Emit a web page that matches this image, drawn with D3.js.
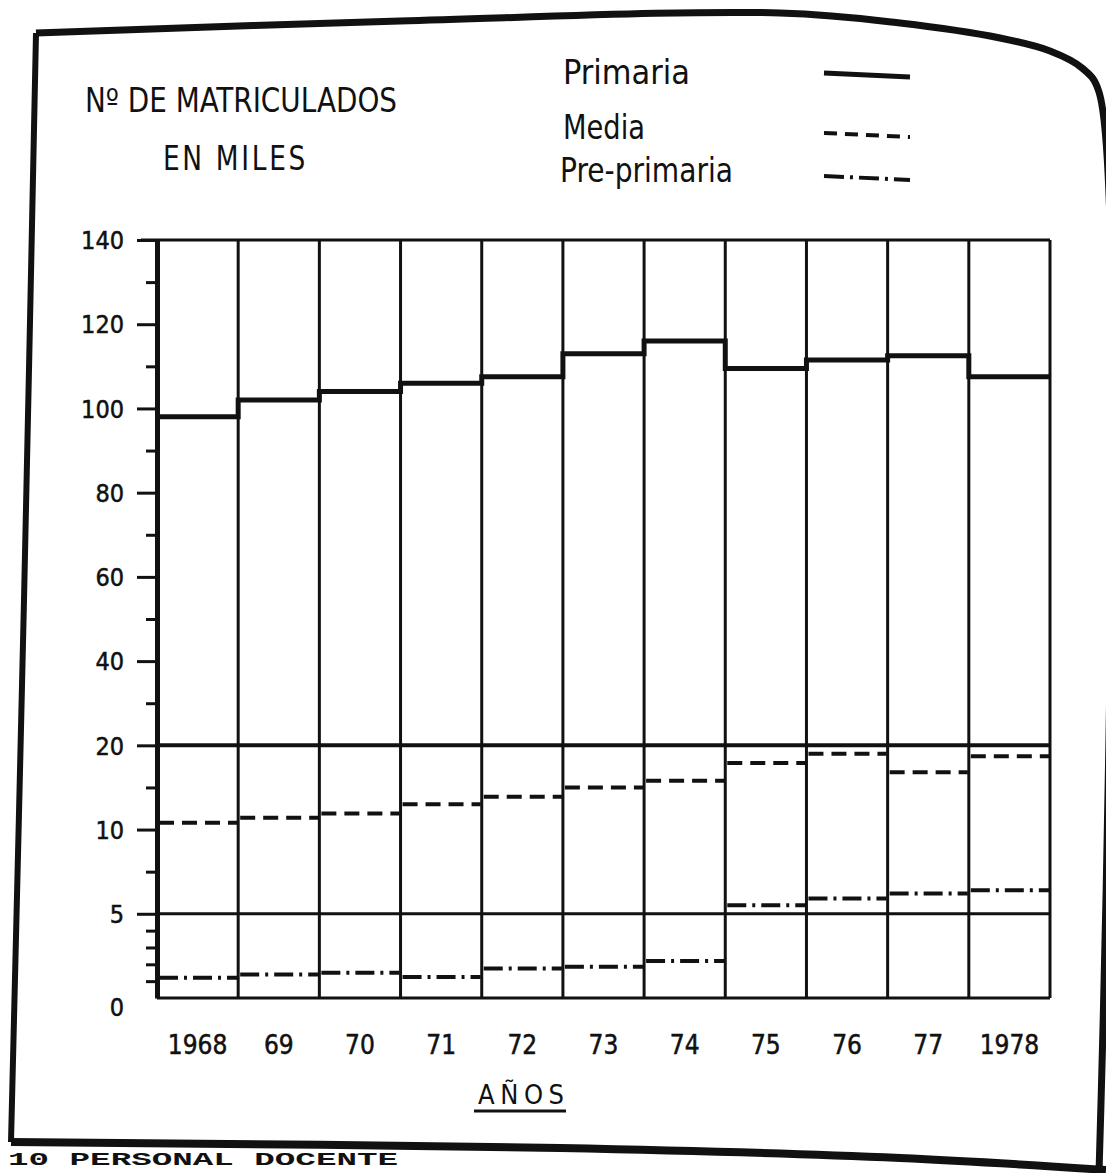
<!DOCTYPE html>
<html>
<head>
<meta charset="utf-8">
<script src="https://cdn.jsdelivr.net/npm/d3@7"></script>
<style>
html,body{margin:0;padding:0;background:#fff;}
svg{display:block;}
text{font-family:"Liberation Sans Narrow","DejaVu Sans Condensed","Roboto",sans-serif;fill:#111;}
</style>
</head>
<body>
<svg id="chart" width="1106" height="1173"></svg>
<script>
// ---- data (thousands of enrolled students) ----
const years = ["1968","69","70","71","72","73","74","75","76","77","1978"];
const primaria    = [98, 102, 104, 106, 107.5, 113, 116, 109.5, 111.5, 112.5, 107.5];
const media       = [10.8, 11.4, 11.9, 13, 13.9, 15, 15.8, 17.9, 19, 16.8, 18.7];
const prePrimaria = [1.2, 1.4, 1.5, 1.25, 1.75, 1.85, 2.2, 5.5, 5.9, 6.2, 6.4];

// broken y scale: tick values and labels
const yTickValues = [0, 5, 10, 20, 40, 60, 80, 100, 120, 140];
const yTickLabels = ["0", "5", "10", "20", "40", "60", "80", "100", "120", "140"];
const yMinorTicks = [1, 2, 3, 4, 7.5, 15, 30, 50, 70, 90, 110, 130];
const breakLines  = [20, 5];

const legendNames = ["Primaria", "Media", "Pre-primaria"];
const titleLines  = ["Nº DE MATRICULADOS", "EN MILES"];
const xTitle      = "AÑOS";
const footerText  = "10 PERSONAL DOCENTE";

// ---- layout ----
const svg = d3.select("#chart");
const yTop = 240, yBottom = 998;
const xLeft = 157, xRight = 1050;

const y = d3.scaleLinear()
  .domain(yTickValues)
  .range(yTickValues.map((d, i) => yBottom - i * (yBottom - yTop) / (yTickValues.length - 1)));
const x = d3.scaleBand().domain(years).range([xLeft, xRight]).padding(0);
const bw = x.bandwidth();

// ---- outer hand-drawn frame ----
const framePts = [[36,33],[400,21],[780,13],[900,23],[1000,38],[1050,51],[1082,68],[1099,92],[1099,1173]];
svg.append("path")
  .attr("d", d3.line().curve(d3.curveCatmullRom)(framePts))
  .attr("fill", "none").attr("stroke", "#111").attr("stroke-width", 7);
svg.append("path")
  .attr("d", d3.line().curve(d3.curveCatmullRom)([[36,33],[24,600],[11,1142]]))
  .attr("fill", "none").attr("stroke", "#111").attr("stroke-width", 6);
svg.append("path")
  .attr("d", d3.line().curve(d3.curveCatmullRom)([[11,1142],[560,1148],[900,1158],[1106,1170]]))
  .attr("fill", "none").attr("stroke", "#111").attr("stroke-width", 8);

// ---- titles ----
svg.append("text").attr("x", 85).attr("y", 112)
  .attr("font-size", 33).attr("textLength", 312).attr("lengthAdjust", "spacingAndGlyphs")
  .text(titleLines[0]);
svg.append("text").attr("x", 163).attr("y", 170)
  .attr("font-size", 33).attr("textLength", 145).attr("lengthAdjust", "spacingAndGlyphs")
  .attr("letter-spacing", 3)
  .text(titleLines[1]);

// ---- legend ----
const legendY = [84, 139, 182];
const legendW = [127, 82, 173];
const legendDash = [null, "13,8", "20,6,3,6"];
const legendLineY = [75, 135, 178];
legendNames.forEach((name, i) => {
  svg.append("text").attr("x", i === 2 ? 560 : 563).attr("y", legendY[i])
    .attr("font-size", 33).attr("textLength", legendW[i]).attr("lengthAdjust", "spacingAndGlyphs")
    .text(name);
  svg.append("line")
    .attr("x1", 824).attr("x2", 910)
    .attr("y1", legendLineY[i] - 2).attr("y2", legendLineY[i] + 2)
    .attr("stroke", "#111")
    .attr("stroke-width", i === 0 ? 5 : 4)
    .attr("stroke-dasharray", legendDash[i]);
});

// ---- grid frame: top, bottom, right edge, column dividers ----
const g = svg.append("g");
g.append("line").attr("x1", xLeft - 16).attr("x2", xRight)
  .attr("y1", y(140)).attr("y2", y(140)).attr("stroke", "#111").attr("stroke-width", 3);
g.append("line").attr("x1", xLeft).attr("x2", xRight)
  .attr("y1", y(0)).attr("y2", y(0)).attr("stroke", "#111").attr("stroke-width", 3);
g.selectAll("line.div").data(years.slice(1).concat(["__end"]))
  .join("line").attr("class", "div")
  .attr("x1", d => d === "__end" ? xRight : x(d))
  .attr("x2", d => d === "__end" ? xRight : x(d))
  .attr("y1", y(140)).attr("y2", y(0))
  .attr("stroke", "#111").attr("stroke-width", 3);

// break lines at 20 and 5
g.selectAll("line.brk").data(breakLines).join("line").attr("class", "brk")
  .attr("x1", xLeft).attr("x2", xRight)
  .attr("y1", d => y(d)).attr("y2", d => y(d))
  .attr("stroke", "#111").attr("stroke-width", d => d === 20 ? 4 : 3);

// ---- y axis ----
const axis = d3.axisLeft(y)
  .tickValues(yTickValues)
  .tickFormat((d, i) => yTickLabels[i])
  .tickSize(20).tickSizeOuter(0).tickPadding(13);
const ag = svg.append("g").attr("transform", `translate(${xLeft},0)`).call(axis);
ag.attr("font-family", null);
ag.select(".domain").attr("stroke", "#111").attr("stroke-width", 5);
ag.selectAll(".tick line").attr("stroke", "#111").attr("stroke-width", 3)
  .filter(d => d === 0).remove();
ag.selectAll(".tick text")
  .attr("font-size", 25).attr("fill", "#111")
  .attr("dy", d => d === 0 ? "0.7em" : "0.35em")
  .attr("stroke", "#111").attr("stroke-width", 0.5);

const minor = d3.axisLeft(y).tickValues(yMinorTicks).tickFormat("").tickSize(11).tickSizeOuter(0);
const mg = svg.append("g").attr("transform", `translate(${xLeft},0)`).call(minor);
mg.select(".domain").remove();
mg.selectAll(".tick line").attr("stroke", "#111").attr("stroke-width", 3);

// ---- series ----
// Primaria: thick solid step line
const stepPts = [];
years.forEach((yr, i) => {
  stepPts.push([x(yr), primaria[i]]);
  stepPts.push([x(yr) + bw, primaria[i]]);
});
svg.append("path")
  .attr("d", d3.line().x(d => d[0]).y(d => y(d[1]))(stepPts))
  .attr("fill", "none").attr("stroke", "#111").attr("stroke-width", 5)
  .attr("stroke-linejoin", "miter");

// Media: dashed per-column segments
svg.selectAll("line.media").data(years).join("line").attr("class", "media")
  .attr("x1", d => x(d) + 2).attr("x2", d => x(d) + bw - 1)
  .attr("y1", (d, i) => y(media[i])).attr("y2", (d, i) => y(media[i]))
  .attr("stroke", "#111").attr("stroke-width", 4).attr("stroke-dasharray", "15,8");

// Pre-primaria: dash-dot per-column segments
svg.selectAll("line.pre").data(years).join("line").attr("class", "pre")
  .attr("x1", d => x(d) + 2).attr("x2", d => x(d) + bw - 1)
  .attr("y1", (d, i) => y(prePrimaria[i])).attr("y2", (d, i) => y(prePrimaria[i]))
  .attr("stroke", "#111").attr("stroke-width", 4).attr("stroke-dasharray", "19,6,3,6");

// ---- x labels ----
svg.selectAll("text.yr").data(years).join("text").attr("class", "yr")
  .attr("x", d => x(d) + bw / 2).attr("y", y(0) + 56)
  .attr("text-anchor", "middle").attr("font-size", 26)
  .attr("stroke", "#111").attr("stroke-width", 0.5)
  .text(d => d);

svg.append("text").attr("x", 521).attr("y", 1104).attr("text-anchor", "middle")
  .attr("font-size", 27).attr("textLength", 86).attr("lengthAdjust", "spacing")
  .text(xTitle);
svg.append("line").attr("x1", 474).attr("x2", 566).attr("y1", 1111).attr("y2", 1111)
  .attr("stroke", "#111").attr("stroke-width", 3);

// ---- caption under the frame ----
svg.append("text").attr("x", 8).attr("y", 1165)
  .style("font-family", "'Liberation Mono','DejaVu Sans Mono',monospace")
  .attr("font-weight", "bold").attr("font-size", 18)
  .attr("textLength", 390).attr("lengthAdjust", "spacingAndGlyphs")
  .text(footerText);
</script>
</body>
</html>
